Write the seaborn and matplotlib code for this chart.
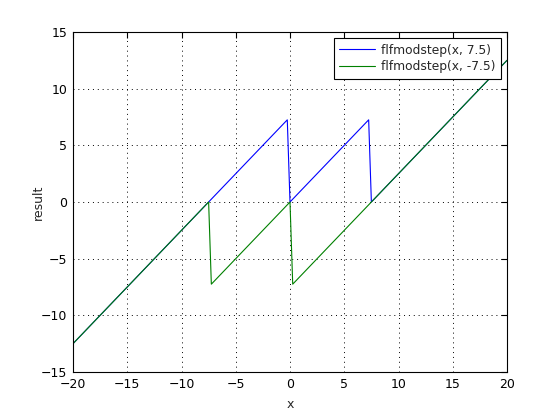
"""Recreate the flfmodstep comparison plot."""

import matplotlib

matplotlib.use("Agg")
import matplotlib.pyplot as plt
import pandas as pd
import seaborn as sns

# Vertices of the two piecewise-linear curves
blue_x = [-20, -7.5, -0.25, 0, 7.25, 7.5, 20]
blue_y = [-12.5, 0, 7.25, 0, 7.25, 0, 12.5]
green_x = [-20, -7.5, -7.25, 0, 0.25, 20]
green_y = [-12.5, 0, -7.25, 0, -7.25, 12.5]
labels = ["flfmodstep(x, 7.5)", "flfmodstep(x, -7.5)"]
x_ticks = list(range(-20, 21, 5))
y_ticks = list(range(-15, 16, 5))

df = pd.concat(
    [
        pd.DataFrame({"x": blue_x, "result": blue_y, "series": labels[0]}),
        pd.DataFrame({"x": green_x, "result": green_y, "series": labels[1]}),
    ],
    ignore_index=True,
)

sns.set_style("white")
plt.rcParams["font.family"] = ["DejaVu Sans"]
plt.rcParams["font.size"] = 9

fig = plt.figure(figsize=(5.6, 4.2), dpi=100)
ax = fig.add_axes([73 / 560, 1 - 372 / 420, 434 / 560, 340 / 420])

sns.lineplot(
    data=df,
    x="x",
    y="result",
    hue="series",
    palette={labels[0]: (0, 0, 1), labels[1]: (0, 0.5, 0)},
    estimator=None,
    sort=False,
    linewidth=0.8,
    ax=ax,
)

ax.set_xlim(-20, 20)
ax.set_ylim(-15, 15)
ax.set_xticks(x_ticks)
ax.set_yticks(y_ticks)
ax.grid(True, color="black", linestyle=(0, (1, 4)), linewidth=0.7)
ax.tick_params(direction="in", length=4, pad=4, top=True, right=True, labelsize=9, colors="black")
for spine in ax.spines.values():
    spine.set_color("black")
    spine.set_linewidth(0.8)
ax.set_xlabel("x", fontsize=9, labelpad=5)
ax.set_ylabel("result", fontsize=9, labelpad=-3)

leg = ax.legend(
    loc="upper right",
    fancybox=False,
    edgecolor="black",
    framealpha=1,
    fontsize=8.8,
    handlelength=2.9,
    handletextpad=0.5,
    borderaxespad=0.5,
    borderpad=0.45,
    labelspacing=0.3,
)
leg.get_frame().set_linewidth(0.8)

fig.savefig("out.png", dpi=100)
